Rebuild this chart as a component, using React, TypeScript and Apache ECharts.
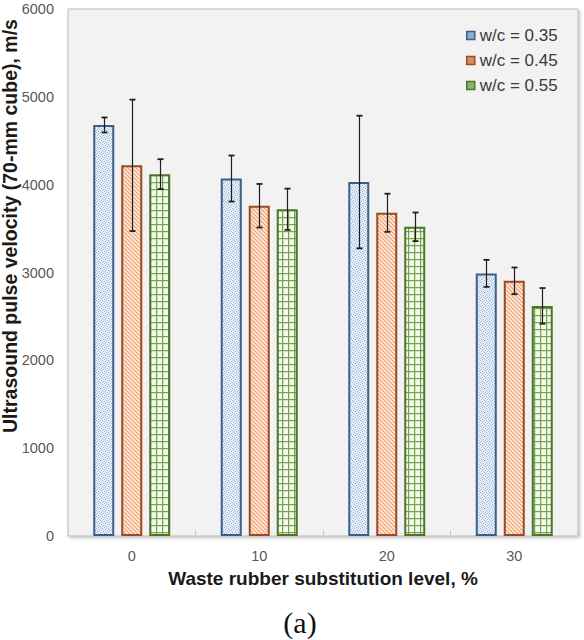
import React, { useEffect, useRef } from "react";
import * as echarts from "echarts";

const categories = ["0", "10", "20", "30"];
const seriesNames = ["w/c = 0.35", "w/c = 0.45", "w/c = 0.55"];
const wc035 = [4680, 4070, 4030, 2990];
const wc045 = [4220, 3760, 3680, 2905];
const wc055 = [4120, 3720, 3520, 2620];
const err035 = [85, 262, 755, 154];
const err045 = [748, 248, 217, 152];
const err055 = [170, 235, 163, 203];
const yMin = 0;
const yMax = 6000;
const yStep = 1000;

const FONT = "Liberation Sans, Arial, sans-serif";

function makePattern(kind: string) {
  const c = document.createElement("canvas");
  let w = 4;
  let h = 4;
  if (kind === "grid") { w = 6; h = 7; }
  if (kind === "dots") { w = 6; h = 6; }
  c.width = w;
  c.height = h;
  const ctx = c.getContext("2d")!;
  if (kind === "dots") {
    ctx.fillStyle = "#e9f0f8";
    ctx.fillRect(0, 0, w, h);
    ctx.fillStyle = "#94b2d5";
    const pts = [[0, 0], [3, 1], [1, 3], [4, 4], [2, 5], [5, 2]];
    pts.forEach(([x, y]) => ctx.fillRect(x, y, 1, 1));
    ctx.fillStyle = "#bfd1e7";
    [[1, 1], [4, 0], [0, 4], [3, 3], [5, 5], [2, 2]].forEach(([x, y]) => ctx.fillRect(x, y, 1, 1));
  } else if (kind === "diag") {
    ctx.fillStyle = "#fdf1e8";
    ctx.fillRect(0, 0, w, h);
    ctx.strokeStyle = "#efa77a";
    ctx.lineWidth = 1.3;
    for (let o = -w; o <= w; o += w) {
      ctx.beginPath();
      ctx.moveTo(o - 1, -1);
      ctx.lineTo(o + w + 1, h + 1);
      ctx.stroke();
    }
  } else {
    ctx.fillStyle = "#f3f9ec";
    ctx.fillRect(0, 0, w, h);
    ctx.fillStyle = "#74a14b";
    ctx.fillRect(0, 0, w, 1.2);
    ctx.fillRect(0, 0, 1.2, h);
  }
  return { image: c.toDataURL(), imageWidth: w, imageHeight: h, repeat: "repeat" };
}

export default function App() {
  const ref = useRef<HTMLDivElement>(null);
  useEffect(() => {
    if (!ref.current) return;
    const chart = echarts.init(ref.current, undefined, { renderer: "svg" });
    const values = [wc035, wc045, wc055];
    const errs = [err035, err045, err055];
    const borders = ["#3c5f88", "#9c4a25", "#4b7629"];
    const legendFill = ["#8eabcc", "#cf8f69", "#8db46c"];
    const patterns = [makePattern("dots"), makePattern("diag"), makePattern("grid")];
    const barW = 21;
    const spacing = 28;

    const bars = values.map((vals, i) => ({
      type: "bar",
      name: seriesNames[i],
      data: vals,
      barWidth: barW,
      barGap: ((spacing - barW) / barW * 100).toFixed(1) + "%",
      itemStyle: { color: patterns[i] as any, borderColor: borders[i], borderWidth: 2 },
      emphasis: { disabled: true },
      z: 2,
    }));

    const errSeries = values.map((vals, i) => ({
      type: "custom",
      name: "err" + i,
      data: vals.map((v, k) => [k, v - errs[i][k], v + errs[i][k]]),
      encode: { x: 0, y: [1, 2] },
      z: 10,
      silent: true,
      renderItem: (params: any, api: any) => {
        const ci = api.value(0);
        const lo = api.coord([ci, api.value(1)]);
        const hi = api.coord([ci, api.value(2)]);
        const x = Math.round(lo[0] + (i - 1) * spacing) + 0.5;
        const cap = 3;
        const st = { stroke: "#1e1e1e", lineWidth: 1.2 };
        return {
          type: "group",
          children: [
            { type: "line", shape: { x1: x, y1: hi[1], x2: x, y2: lo[1] }, style: st },
            { type: "line", shape: { x1: x - cap, y1: hi[1], x2: x + cap, y2: hi[1] }, style: { ...st, lineWidth: 1.8 } },
            { type: "line", shape: { x1: x - cap, y1: lo[1], x2: x + cap, y2: lo[1] }, style: { ...st, lineWidth: 1.8 } },
          ],
        };
      },
    }));

    chart.setOption({
      animation: false,
      backgroundColor: "#ffffff",
      textStyle: { fontFamily: FONT },
      grid: {
        left: 68,
        right: 6,
        top: 9,
        bottom: 104,
        show: true,
        backgroundColor: "#f2f2f2",
        borderColor: "#bcbcbc",
        borderWidth: 1,
        shadowColor: "rgba(0,0,0,0.25)",
        shadowBlur: 3,
        shadowOffsetX: 1.5,
        shadowOffsetY: 1.5,
      },
      legend: {
        data: seriesNames.map((n, i) => ({
          name: n,
          itemStyle: { color: legendFill[i], borderColor: borders[i], borderWidth: 1.5 },
        })),
        orient: "vertical",
        left: 466,
        top: 27,
        padding: 0,
        itemWidth: 8,
        itemHeight: 8,
        itemGap: 8,
        icon: "rect",
        selectedMode: false,
        textStyle: { fontSize: 17, color: "#3a3a3a", fontFamily: FONT },
      },
      xAxis: {
        type: "category",
        data: categories,
        boundaryGap: true,
        axisLine: { show: false },
        axisTick: { show: true, inside: true, length: 5, lineStyle: { color: "#c4c4c4" } },
        axisLabel: { color: "#595959", fontSize: 14.5, margin: 12, fontFamily: FONT },
        splitLine: { show: false },
      },
      yAxis: {
        type: "value",
        min: yMin,
        max: yMax,
        interval: yStep,
        axisLine: { show: false },
        axisTick: { show: false },
        splitLine: { show: false },
        axisLabel: {
          color: "#595959",
          fontSize: 14.5,
          margin: 14,
          fontFamily: FONT,
          formatter: (v: number) => String(v),
        },
      },
      graphic: [
        {
          type: "text",
          x: 10,
          y: 226,
          rotation: Math.PI / 2,
          style: {
            text: "Ultrasound pulse velocity (70-mm cube), m/s",
            font: "bold 19.5px " + FONT,
            fill: "#1a1a1a",
            align: "center",
            verticalAlign: "middle",
          },
        },
        {
          type: "text",
          x: 323,
          y: 578,
          style: {
            text: "Waste rubber substitution level, %",
            font: "bold 19px " + FONT,
            fill: "#1a1a1a",
            align: "center",
            verticalAlign: "middle",
          },
        },
        {
          type: "text",
          x: 300,
          y: 622,
          style: {
            text: "(a)",
            font: "30px Liberation Serif, Times New Roman, serif",
            fill: "#111111",
            align: "center",
            verticalAlign: "middle",
          },
        },
      ],
      series: [...bars, ...errSeries],
    } as any);
    return () => chart.dispose();
  }, []);
  return (
    <div
      ref={ref}
      style={{ position: "fixed", left: 0, top: 0, width: 584, height: 640, background: "#fff" }}
    />
  );
}
